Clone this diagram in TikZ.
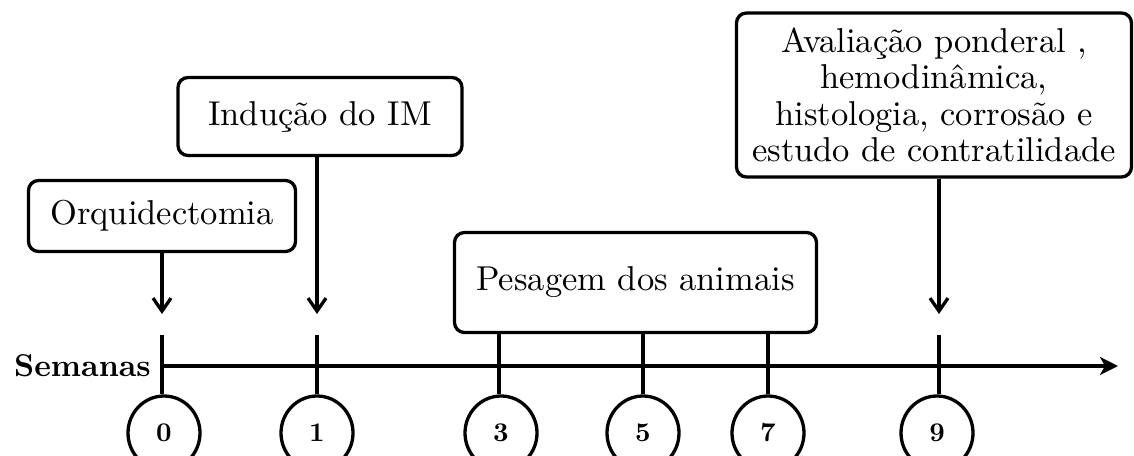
\documentclass[tikz,border=0pt]{standalone}
\usepackage{fontspec}
\setmainfont{lmroman10-regular.otf}[BoldFont=lmroman10-bold.otf]
\usetikzlibrary{arrows.meta,shapes.geometric}
\tikzset{
  stepbox/.style={draw, line width=3.3pt, rounded corners=10pt, inner sep=0pt,
    align=center, font=\fontsize{34.5}{36.5}\selectfont},
  weekcirc/.style={draw, ellipse, line width=3.3pt, inner sep=0pt,
    minimum width=72pt, minimum height=74pt,
    font=\fontsize{27}{28}\selectfont\bfseries},
  conn/.style={line width=3.3pt},
  downarrow/.style={line width=3.3pt, -{Straight Barb[length=13pt,width=18pt,line width=3.3pt]}},
  axisline/.style={line width=3.3pt, -{Stealth[length=18pt,width=18pt,inset=5pt]}},
}
\begin{document}
\begin{tikzpicture}[x=1pt,y=-1pt]
\useasboundingbox (0,0) rectangle (1134,455);
\clip (0,0) rectangle (1134,455);
% boxes
\node[stepbox, minimum width=267pt, minimum height=71pt] (orq) at (162,216) {Orquidectomia};
\node[stepbox, minimum width=284pt, minimum height=78pt] (ind) at (320,116.5) {Indução do IM};
\node[stepbox, minimum width=362pt, minimum height=100pt] (pes) at (635.5,282.5) {Pesagem dos animais};
\node[stepbox, minimum width=395pt, minimum height=164pt] (ava) at (934,95)
  {Avaliação ponderal ,\\ hemodinâmica,\\ histologia, corrosão e\\ estudo de contratilidade};
% label
\node[anchor=east, inner sep=0pt, font=\fontsize{31.5}{32}\selectfont\bfseries] (sem) at (151,366) {Semanas};
% week circles
\node[weekcirc] (c0) at (164,433) {0};
\node[weekcirc] (c1) at (317,433) {1};
\node[weekcirc] (c3) at (501,433) {3};
\node[weekcirc] (c5) at (643,433) {5};
\node[weekcirc] (c7) at (768,433) {7};
\node[weekcirc] (c9) at (937,433) {9};
% coordinates
\coordinate (a0) at (162,314);
\coordinate (a1) at (317,314);
\coordinate (a9) at (939,314);
\coordinate (t0) at (162,335);
\coordinate (t1) at (317,335);
\coordinate (t9) at (939,335);
\coordinate (ax0) at (161,366);
\coordinate (ax1) at (1118,366);
% axis
\draw[axisline] (ax0) -- (ax1);
% arrows
\draw[downarrow] (orq.south) -- (a0);
\draw[downarrow] (a1 |- ind.south) -- (a1);
\draw[downarrow] (a9 |- ava.south) -- (a9);
% ticks
\draw[conn] (t0) -- (t0 |- c0.north);
\draw[conn] (t1) -- (t1 |- c1.north);
\draw[conn] (t9) -- (t9 |- c9.north);
\draw[conn] (pes.south -| 499,0) -- (499,0 |- c3.north);
\draw[conn] (c5.north |- pes.south) -- (c5.north);
\draw[conn] (c7.north |- pes.south) -- (c7.north);
\end{tikzpicture}
\end{document}
